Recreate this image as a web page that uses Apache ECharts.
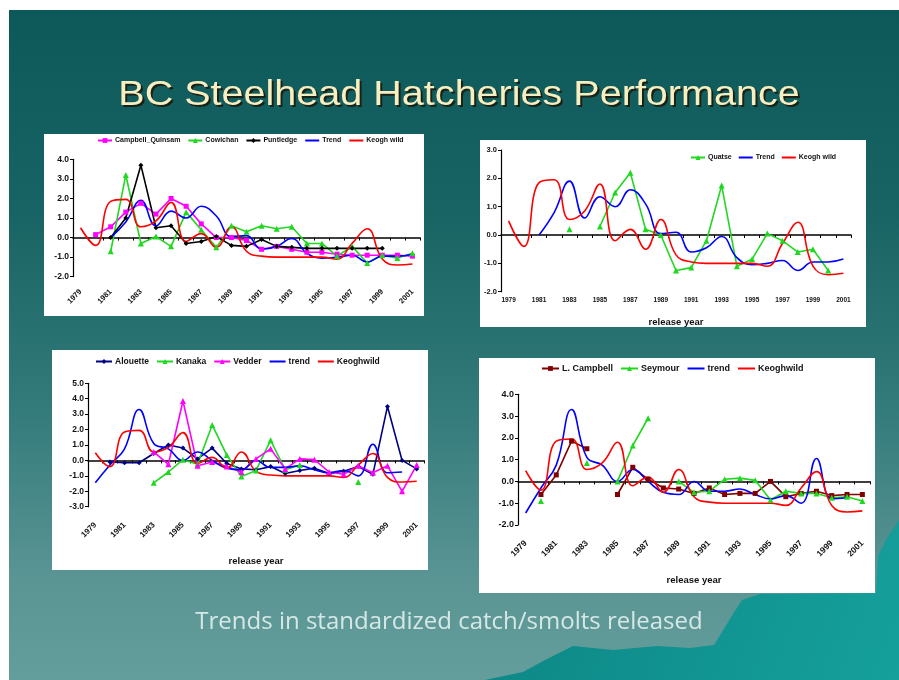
<!DOCTYPE html>
<html><head><meta charset="utf-8">
<script src="https://cdn.jsdelivr.net/npm/echarts@6/dist/echarts.min.js"></script>
<style>html,body{margin:0;padding:0;background:#fff}#c{width:899px;height:680px}</style>
</head><body><div id="c"></div>
<script>
// ---------- data (release years 1979-2001) ----------
const years = ['1979','1980','1981','1982','1983','1984','1985','1986','1987','1988','1989','1990',
               '1991','1992','1993','1994','1995','1996','1997','1998','1999','2000','2001'];
const keoghWild = [0.5,-0.4,1.85,1.95,0.55,0.85,1.8,-0.2,0.2,-0.5,0.55,-0.7,-0.95,-1.0,-1.0,-1.0,-1.0,-1.1,-0.3,0.45,-1.1,-1.4,-1.35];
const trendA = [null,null,0.0,0.8,1.9,0.6,1.35,1.0,1.6,1.1,0.05,0.1,-0.6,-0.45,-0.05,-0.8,-1.05,-1.0,-0.9,-1.25,-0.95,-0.95,-0.85];
const trendB = [-1.45,-0.3,0.75,3.3,1.1,0.75,0.0,0.55,0.0,-0.5,-0.6,0.0,-0.45,-0.45,-0.35,-0.6,-0.8,-0.65,-1.0,1.05,-0.8,-0.75,null];
// panel 1
const campbellQuinsam = [null,0.15,0.55,1.3,1.75,1.2,2.0,1.6,0.7,0.0,0.0,-0.15,-0.6,-0.45,-0.6,-0.75,-0.75,-0.85,-0.9,-0.9,-0.9,-0.9,-0.95];
const cowichan = [null,null,-0.7,3.2,-0.3,0.05,-0.45,1.3,0.4,-0.5,0.6,0.3,0.6,0.45,0.55,-0.3,-0.3,-0.95,-0.45,-1.3,-0.9,-1.05,-0.8];
const puntledge = [null,null,0.0,1.0,3.7,0.5,0.6,-0.3,-0.2,0.05,-0.4,-0.45,-0.1,-0.45,-0.5,-0.55,-0.55,-0.55,-0.55,-0.55,-0.55,null,null];
// panel 2
const quatse = [null,null,null,null,0.2,null,0.3,1.5,2.2,0.2,0.0,-1.25,-1.15,-0.2,1.75,-1.1,-0.85,0.05,-0.2,-0.6,-0.5,-1.25,null];
// panel 3
const alouette = [null,-0.1,-0.15,-0.15,0.45,1.0,0.8,0.1,0.8,-0.2,-0.55,-0.6,-0.4,-0.85,-0.65,-0.5,-0.85,-0.7,-0.4,-0.9,3.5,0.0,-0.55];
const kanaka = [null,null,null,null,-1.45,-0.75,0.05,-0.25,2.3,0.35,-1.05,-0.65,1.3,-0.6,-0.3,null,null,null,-1.4,null,null,null,null];
const vedder = [null,null,null,null,0.55,-0.25,3.85,-0.35,-0.1,-0.4,-0.75,0.1,0.75,-0.55,0.1,0.05,-0.75,-0.9,-0.35,-0.8,-0.35,-2.0,-0.3];
// panel 4
const lCampbell = [null,-0.6,0.3,1.85,1.5,null,-0.6,0.65,0.1,-0.3,-0.35,-0.55,-0.3,-0.6,-0.55,-0.55,0.0,-0.7,-0.55,-0.45,-0.65,-0.6,-0.6];
const seymour = [null,-0.9,null,null,0.85,null,0.0,1.65,2.9,null,0.0,-0.5,-0.45,0.1,0.15,0.05,-0.85,-0.45,-0.55,-0.55,-0.75,-0.7,-0.9];
const legend1 = ['Campbell_Quinsam','Cowichan','Puntledge','Trend','Keogh wild'];
const legend2 = ['Quatse','Trend','Keogh wild'];
const legend3 = ['Alouette','Kanaka','Vedder','trend','Keoghwild'];
const legend4 = ['L. Campbell','Seymour','trend','Keoghwild'];
const titleText = 'BC Steelhead Hatcheries Performance';
const subtitleText = 'Trends in standardized catch/smolts released';

// ---------- layout ----------
const FONT = '"Liberation Sans", Arial, sans-serif';
const panels = [
  {box:[44,134,380,182], grid:{left:73,top:159.3,width:347,height:117.4}, y:[-2,4], yFs:8.5, xFs:7.5, rot:45, margin:14, name:'', legendLeft:97, legendTop:137, legendFs:7, legendGap:7, legendW:14},
  {box:[480,140,386,187], grid:{left:501,top:150,width:350,height:141.7}, y:[-2,3], yFs:7.5, xFs:6.5, rot:0, margin:5, name:'release year', nameGap:26, legendLeft:690, legendTop:154, legendFs:7, legendGap:6, legendW:14},
  {box:[52,350,376,220], grid:{left:88,top:383.3,width:336,height:123.4}, y:[-3,5], yFs:8.5, xFs:8, rot:45, margin:17, name:'release year', nameGap:50, legendLeft:95, legendTop:357, legendFs:8.5, legendGap:7, legendW:16},
  {box:[479,358,396,235], grid:{left:518,top:394.3,width:352,height:130.7}, y:[-2,4], yFs:9, xFs:8.5, rot:45, margin:17, name:'release year', nameGap:50, legendLeft:541, legendTop:364, legendFs:9, legendGap:7, legendW:17}
];
const noMarker = ['Trend','Keogh wild','trend','Keoghwild'];

const grid = [], xAxis = [], yAxis = [], legend = [], series = [];
panels.forEach((p, g) => {
  grid.push(Object.assign({containLabel:false}, p.grid));
  xAxis.push({
    type:'category', gridIndex:g, data:years, boundaryGap:true, position:'bottom',
    axisLine:{show:false, onZero:false}, axisTick:{show:false},
    axisLabel:{interval:1, rotate:p.rot, fontSize:p.xFs, fontWeight:'bold', color:'#111', margin:p.margin, fontFamily:FONT},
    name:p.name, nameLocation:'middle', nameGap:p.nameGap || 0,
    nameTextStyle:{fontSize:9.5, fontWeight:'bold', color:'#111', fontFamily:FONT}
  });
  xAxis.push({
    type:'category', gridIndex:g, data:years, boundaryGap:true, position:'bottom',
    axisLine:{show:true, onZero:true, lineStyle:{color:'#000', width:1.5}},
    axisTick:{show:true, length:3, interval:0, lineStyle:{color:'#000'}},
    axisLabel:{show:false}
  });
  yAxis.push({
    type:'value', gridIndex:g, min:p.y[0], max:p.y[1], interval:1,
    axisLine:{show:true, onZero:false, lineStyle:{color:'#000', width:1.2}},
    axisTick:{show:true, length:3, lineStyle:{color:'#000'}},
    splitLine:{show:false},
    axisLabel:{formatter:v => v.toFixed(1), fontSize:p.yFs, fontWeight:'bold', color:'#111', margin:4, fontFamily:FONT}
  });
});

const legendNames = [legend1, legend2, legend3, legend4];
panels.forEach((p, g) => {
  legend.push({
    data:legendNames[g].map(n => noMarker.indexOf(n) >= 0
      ? {name:n, itemStyle:{color:'rgba(0,0,0,0)', borderColor:'rgba(0,0,0,0)', borderWidth:0}}
      : {name:n}),
    left:p.legendLeft, top:p.legendTop, padding:0, itemGap:p.legendGap,
    itemWidth:p.legendW, itemHeight:6, selectedMode:false,
    textStyle:{fontSize:p.legendFs, fontWeight:'bold', color:'#111', fontFamily:FONT, padding:[0,0,0,-2]}
  });
});

function line(g, name, data, color, symbol, smooth) {
  return {
    type:'line', name:name, data:data, xAxisIndex:g*2, yAxisIndex:g,
    symbol:symbol, symbolSize:symbol === 'triangle' ? 6 : 5, showSymbol:symbol !== 'none',
    smooth:smooth ? 0.45 : false, connectNulls:false, animation:false,
    lineStyle:{color:color, width:1.6}, itemStyle:{color:color}, z: 3
  };
}
const MAG = '#ff00ff', GRN = '#1fd81f', BLK = '#000000', BLU = '#0000ff', RED = '#ff0000', NAV = '#000080', MAR = '#800000';
series.push(
  line(0, 'Campbell_Quinsam', campbellQuinsam, MAG, 'rect'),
  line(0, 'Cowichan', cowichan, GRN, 'triangle'),
  line(0, 'Puntledge', puntledge, BLK, 'diamond'),
  line(0, 'Trend', trendA, BLU, 'none', true),
  line(0, 'Keogh wild', keoghWild, RED, 'none', true),
  line(1, 'Quatse', quatse, GRN, 'triangle'),
  line(1, 'Trend', trendA, BLU, 'none', true),
  line(1, 'Keogh wild', keoghWild, RED, 'none', true),
  line(2, 'Alouette', alouette, NAV, 'diamond'),
  line(2, 'Kanaka', kanaka, GRN, 'triangle'),
  line(2, 'Vedder', vedder, MAG, 'triangle'),
  line(2, 'trend', trendB, BLU, 'none', true),
  line(2, 'Keoghwild', keoghWild, RED, 'none', true),
  line(3, 'L. Campbell', lCampbell, MAR, 'rect'),
  line(3, 'Seymour', seymour, GRN, 'triangle'),
  line(3, 'trend', trendB, BLU, 'none', true),
  line(3, 'Keoghwild', keoghWild, RED, 'none', true)
);

// ---------- slide background, panels, titles ----------
const graphicEls = [
  {type:'rect', z:-30, shape:{x:9, y:10, width:890, height:670},
   style:{fill:{type:'linear', x:0, y:0, x2:0, y2:1, colorStops:[
     {offset:0, color:'#0d5858'}, {offset:0.3, color:'#186363'}, {offset:0.6, color:'#347b7b'}, {offset:0.85, color:'#5a9594'}, {offset:1, color:'#639d9c'}]}}},
  {type:'polygon', z:-29, shape:{points:[[899,520],[886,540],[878,556],[876,593],[760,594],[742,600],[733,614],[722,632],[714,645],[690,648],[657,646],[613,650],[573,646],[545,660],[523,672],[485,680],[899,680]]},
   style:{fill:{type:'linear', x:0, y:0, x2:1, y2:1, colorStops:[{offset:0, color:'#0c8584'}, {offset:1, color:'#15a09c'}]}}}
];
panels.forEach(p => {
  graphicEls.push({type:'rect', z:-20, shape:{x:p.box[0], y:p.box[1], width:p.box[2], height:p.box[3]}, style:{fill:'#ffffff'}});
});
graphicEls.push(
  {type:'text', z:-10, x:461, y:97, scaleX:1.13,
   style:{text:titleText, font:'35px ' + FONT, fill:'#1c1608', textAlign:'center', textVerticalAlign:'middle', opacity:0.85}},
  {type:'text', z:-9, x:459, y:95, scaleX:1.13,
   style:{text:titleText, font:'35px ' + FONT, fill:'#f7efc2', textAlign:'center', textVerticalAlign:'middle'}},
  {type:'text', z:-9, x:449, y:622,
   style:{text:subtitleText, font:'24px "Open Sans", sans-serif', fill:'#d6e8e6', textAlign:'center', textVerticalAlign:'middle'}}
);

const chart = echarts.init(document.getElementById('c'), null, {renderer:'canvas'});
chart.setOption({
  animation:false,
  backgroundColor:'#ffffff',
  graphic:{elements:graphicEls},
  grid:grid, xAxis:xAxis, yAxis:yAxis, legend:legend, series:series
});
</script>
</body></html>
